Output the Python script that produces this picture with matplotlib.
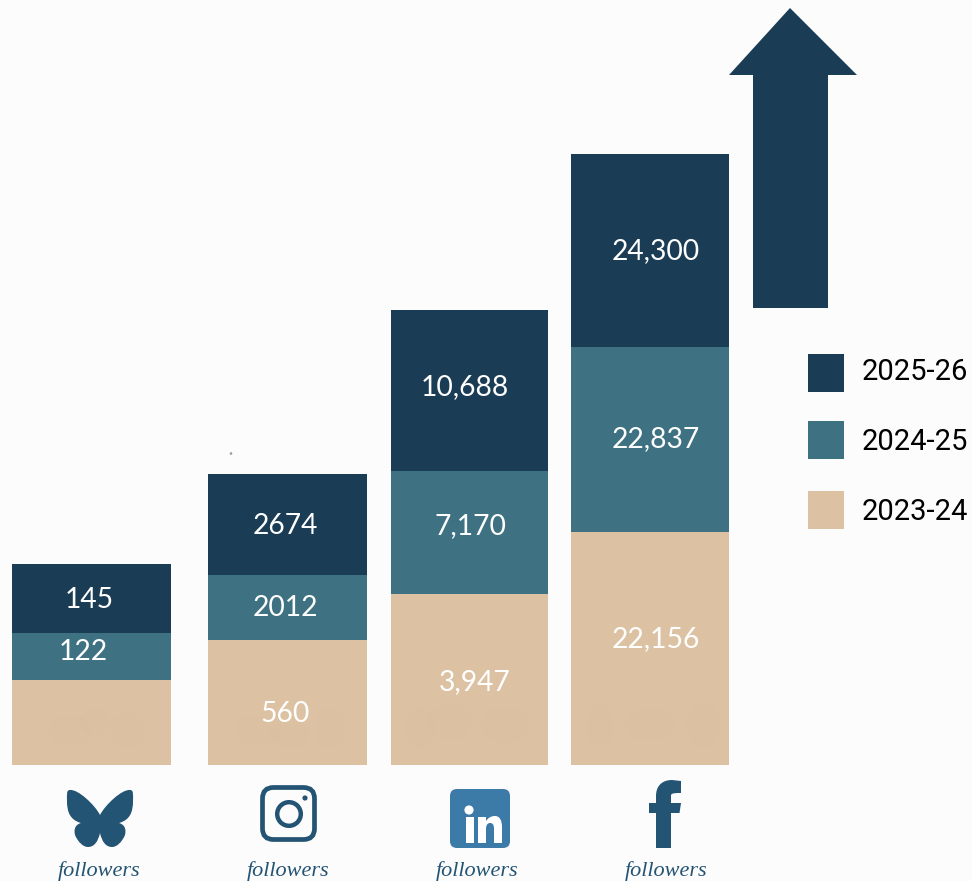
#!/usr/bin/env python3
# -*- coding: utf-8 -*-
import matplotlib
matplotlib.use('Agg')
import matplotlib.pyplot as plt
from matplotlib.patches import Rectangle, Circle, Ellipse, FancyBboxPatch, PathPatch, Polygon
from matplotlib.path import Path

plt.rcParams['font.family'] = ['Lato', 'DejaVu Sans']

# segment heights as drawn, the picture is not to scale with the numbers
h_2324 = [85, 125, 171, 233]
h_2425 = [47, 65, 123, 185]
h_2526 = [69, 101, 161, 193]
lab_2324 = ['', '560', '3,947', '22,156']
lab_2425 = ['122', '2012', '7,170', '22,837']
lab_2526 = ['145', '2674', '10,688', '24,300']
years = ['2025-26', '2024-25', '2023-24']

navy = '#1a3c55'
teal = '#3e7283'
tan = '#dcc2a3'
icon_blue = '#245473'
in_blue = '#3c7aa8'
bg = '#fcfcfd'

W, H = 972, 881
BASE = 764.5


def py(y):
    # pixel row in the image -> axis y (0 at the bar baseline)
    return BASE - y


def curve(pts, codes, **kw):
    return PathPatch(Path([(x, py(y)) for x, y in pts], codes), lw=0, **kw)


fig = plt.figure(figsize=(W / 100, H / 100), dpi=100, facecolor=bg)
ax = fig.add_axes([0, 0, 1, 1])
ax.set_xlim(0, W)
ax.set_ylim(BASE - H, BASE)
ax.axis('off')

# stacked bars
left = [12, 208, 391, 571]
right = [171, 367, 548, 729]
centers = [(a + b) / 2 for a, b in zip(left, right)]
widths = [b - a for a, b in zip(left, right)]
bot2 = h_2324
bot3 = [a + b for a, b in zip(h_2324, h_2425)]
ax.bar(centers, h_2324, width=widths, color=tan, lw=0)
ax.bar(centers, h_2425, width=widths, bottom=bot2, color=teal, lw=0)
ax.bar(centers, h_2526, width=widths, bottom=bot3, color=navy, lw=0)

# faint leftovers of old logos in the tan segments
ghosts = [(70, 730, 42, 30), (127, 731, 36, 36), (95, 722, 30, 26),
          (258, 730, 46, 30), (330, 728, 30, 40), (290, 735, 40, 26),
          (420, 728, 28, 44), (450, 722, 46, 36), (505, 725, 48, 36),
          (600, 725, 28, 40), (650, 725, 50, 32), (703, 725, 34, 44)]
for gx, gy, gw, gh in ghosts:
    ax.add_patch(Ellipse((gx, py(gy)), gw, gh, color='#d2b596', alpha=0.07, lw=0))

# labels are not centred in the original, so placed by hand
lab_x = [[89, 285, 465, 655.5], [83, 285, 470, 655.5], [None, 285, 475, 655.5]]
lab_y = [[597, 524, 385, 249], [650, 605, 524, 437], [None, 712, 680, 637]]
for row, labs in enumerate([lab_2526, lab_2425, lab_2324]):
    for i, s in enumerate(labs):
        if s:
            ax.text(lab_x[row][i], py(lab_y[row][i]), s, color='white', fontsize=20.3,
                    ha='center', va='center_baseline')

# stray speck above the instagram bar
ax.add_patch(Circle((231, py(453.5)), 1.3, color='#9a9a9a', lw=0))

# big arrow
arrow = [(753, 308), (753, 75), (729, 75), (790, 8), (857, 75), (828, 75), (828, 308)]
ax.add_patch(Polygon([(x, py(y)) for x, y in arrow], closed=True, color=navy, lw=0))

# legend
for y, ty, c, s in zip([354, 421, 491], [369, 439, 509], [navy, teal, tan], years):
    ax.add_patch(Rectangle((808, py(y + 38)), 36, 38, fc=c, lw=0))
    ax.text(861.5, py(ty), s, family='Roboto', fontsize=21, color='black',
            ha='left', va='center_baseline')

# bluesky butterfly
M, L, C = Path.MOVETO, Path.LINETO, Path.CURVE4
half = [(100, 815), (95, 805), (78, 789), (70, 790),
        (66, 790), (67, 795), (67, 801),
        (67, 812), (70, 820), (81, 823),
        (74, 825), (74, 831), (75, 835),
        (78, 842), (83, 847), (88, 847),
        (94, 847), (98, 842), (100, 833)]
codes = [M] + [C] * 18
ax.add_patch(curve(half, codes, color=icon_blue))
ax.add_patch(curve([(200 - x, y) for x, y in half], codes, color=icon_blue))

# instagram
ax.add_patch(FancyBboxPatch((262.5, py(839.5)), 52, 52, boxstyle='round,pad=0,rounding_size=11',
                            fc='none', ec=icon_blue, lw=3.4))
ax.add_patch(Circle((289, py(814)), 11.8, fc='none', ec=icon_blue, lw=3.2))
ax.add_patch(Circle((305, py(798)), 2.6, color=icon_blue, lw=0))

# linkedin
ax.add_patch(FancyBboxPatch((450, py(848)), 60, 59, boxstyle='round,pad=0,rounding_size=7',
                            fc=in_blue, ec='none'))
ax.add_patch(Circle((469, py(810)), 4.6, color='white', lw=0))
ax.add_patch(Rectangle((466, py(843)), 8, 26, color='white', lw=0))
n = [(478, 843), (478, 817), (486, 817), (486, 821),
     (488, 818), (491, 816), (495, 816),
     (500, 816), (502, 821), (502, 827),
     (502, 843), (494, 843), (494, 829),
     (494, 825), (493, 823), (490, 823),
     (487, 823), (486, 826), (486, 829),
     (486, 843), (478, 843)]
ncodes = [M, L, L, L, C, C, C, C, C, C, L, L, L, C, C, C, C, C, C, L, L]
ax.add_patch(curve(n, ncodes, color='white'))

# facebook f
f = [(656, 848), (656, 813), (649, 813), (649, 803), (656, 803), (656, 796),
     (656, 785), (663, 780), (672, 780),
     (681, 781), (681, 793), (675, 793),
     (672, 793), (671, 795), (671, 798),
     (671, 803), (681, 803), (679.5, 813), (671, 813), (671, 848), (656, 848)]
fcodes = [M, L, L, L, L, L, C, C, C, L, L, C, C, C, L, L, L, L, L, L, L]
ax.add_patch(curve(f, fcodes, color=icon_blue))

# followers captions
for x in [99, 288, 477, 666]:
    ax.text(x, py(868.5), 'followers', family='Liberation Serif', style='italic', fontsize=16,
            color=icon_blue, ha='center', va='center_baseline')

fig.savefig('out.png', dpi=100, facecolor=bg)
